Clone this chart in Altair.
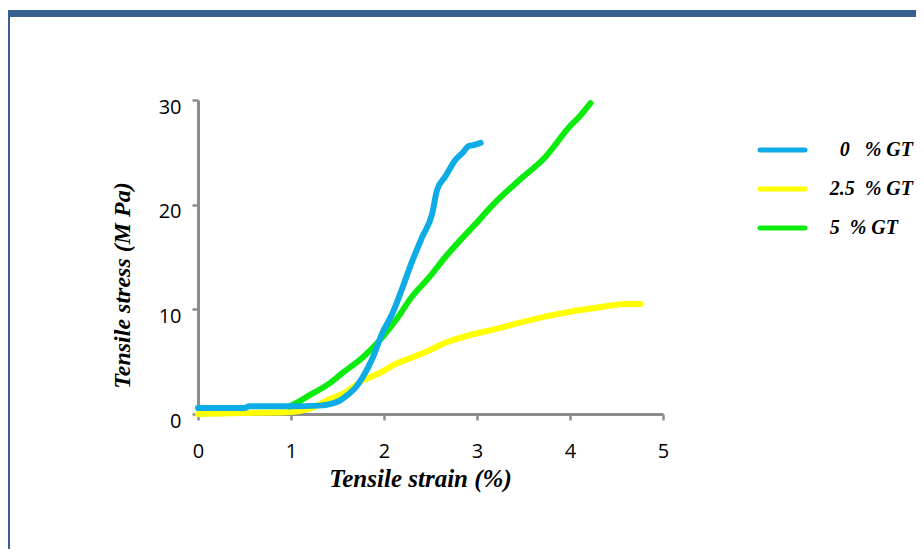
import altair as alt
import pandas as pd

# ---------------- data ----------------
series = ["0 % GT", "2.5 % GT", "5 % GT"]
colors = ["#0EACE6", "#FFFF00", "#0CEC0C"]
legend_text = ["0\u00a0\u00a0\u00a0% GT", "2.5\u00a0\u00a0% GT",
               "5\u00a0\u00a0% GT\u00a0\u00a0\u00a0\u200b"]

strain_0 = [0.0, 0.5, 0.55, 1.0, 1.3, 1.44, 1.53, 1.62, 1.7, 1.77, 1.88, 1.98, 2.09, 2.20,
            2.29, 2.41, 2.52, 2.57, 2.66, 2.77, 2.85, 2.91, 2.97, 3.04]
stress_0 = [0.57, 0.57, 0.75, 0.75, 0.8, 1.0, 1.3, 1.9, 2.6, 3.5, 5.4, 7.7, 9.6, 12.1,
            14.3, 16.9, 19.2, 21.4, 22.7, 24.3, 25.0, 25.6, 25.7, 25.9]

strain_25 = [0.0, 0.5, 1.0, 1.2, 1.41, 1.59, 1.77, 1.95, 2.13, 2.30, 2.49, 2.66, 2.95, 3.24,
             3.45, 3.73, 4.02, 4.25, 4.46, 4.6, 4.76]
stress_25 = [0.0, 0.1, 0.2, 0.5, 1.4, 2.1, 3.2, 3.9, 4.8, 5.4, 6.1, 6.8, 7.6, 8.2,
             8.7, 9.3, 9.8, 10.1, 10.4, 10.5, 10.5]

strain_5 = [0.98, 1.09, 1.2, 1.41, 1.55, 1.77, 1.95, 2.13, 2.30, 2.49, 2.66, 2.84, 3.02,
            3.13, 3.24, 3.45, 3.74, 3.99, 4.1, 4.22]
stress_5 = [0.7, 1.2, 1.8, 2.9, 3.9, 5.4, 7.0, 9.0, 11.2, 13.1, 15.0, 16.8, 18.5,
            19.6, 20.6, 22.3, 24.6, 27.4, 28.4, 29.7]

x_ticks = [0, 1, 2, 3, 4, 5]
y_ticks = [0, 10, 20, 30]

# drawing order: yellow, green, blue (blue on top)
rows = []
for name, xs, ys in [(series[1], strain_25, stress_25),
                     (series[2], strain_5, stress_5),
                     (series[0], strain_0, stress_0)]:
    for i, (a, b) in enumerate(zip(xs, ys)):
        rows.append({"series": name, "strain": a, "stress": b, "idx": i})
df = pd.DataFrame(rows)

leg_df = pd.DataFrame({"series": series, "text": legend_text})

AXIS_GRAY = "#8C8C8C"
FRAME = "#386192"
color_scale = alt.Scale(domain=series, range=colors)

lines = alt.Chart(df).mark_line(strokeWidth=6, strokeCap="round", strokeJoin="round",
                                interpolate="monotone").encode(
    x=alt.X("strain:Q", scale=alt.Scale(domain=[0, 5], nice=False),
            axis=alt.Axis(values=x_ticks, format="d", title="Tensile strain (%)",
                          titleFont="Liberation Serif", titleFontStyle="italic",
                          titleFontWeight="bold", titleFontSize=25, titleColor="black",
                          titleX=222, titleY=64, titleBaseline="middle", titleAlign="center",
                          domainColor=AXIS_GRAY, domainWidth=3, tickColor=AXIS_GRAY,
                          tickWidth=2.5, tickSize=6, labelFont="Open Sans", labelFontSize=20,
                          labelColor="black", labelPadding=21, labelFlush=False,
                          labelOverlap=False, grid=False)),
    y=alt.Y("stress:Q", scale=alt.Scale(domain=[0, 30], nice=False),
            axis=alt.Axis(values=y_ticks, format="d", title="Tensile stress (M Pa)",
                          titleFont="Liberation Serif", titleFontStyle="italic",
                          titleFontWeight="bold", titleFontSize=24, titleColor="black",
                          titleX=-76, titleY=185, titleAngle=270, titleBaseline="middle",
                          titleAlign="center",
                          domainColor=AXIS_GRAY, domainWidth=3, tickColor=AXIS_GRAY,
                          tickWidth=2.5, tickSize=6, labelFont="Open Sans", labelFontSize=20,
                          labelColor="black", labelPadding=11, labelOffset=7,
                          labelFlush=False, labelOverlap=False, grid=False)),
    color=alt.Color("series:N", scale=color_scale, legend=None),
    detail="series:N",
    order="idx:Q",
)

leg_y = alt.Y("series:N", scale=alt.Scale(type="point", domain=series, range=[50, 128], padding=0),
              axis=None)

leg_rules = alt.Chart(leg_df).mark_rule(strokeWidth=5, strokeCap="round").encode(
    x=alt.value(562), x2=alt.value(607), y=leg_y,
    color=alt.Color("series:N", scale=color_scale, legend=None),
)

leg_texts = alt.Chart(leg_df).mark_text(
    align="right", baseline="middle", font="Liberation Serif", fontStyle="italic",
    fontWeight="bold", fontSize=20, color="black").encode(
    x=alt.value(715), y=leg_y, text="text:N")

frame_data = alt.Data(values=[{"k": 1}])
top_bar = alt.Chart(frame_data).mark_rect(color=FRAME).encode(
    x=alt.value(-190), x2=alt.value(718), y=alt.value(-90), y2=alt.value(-83))
left_bar = alt.Chart(frame_data).mark_rect(color=FRAME).encode(
    x=alt.value(-190), x2=alt.value(-188), y=alt.value(-90), y2=alt.value(449))

chart = alt.layer(top_bar, left_bar, lines, leg_rules, leg_texts).resolve_scale(
    y="independent"
).properties(
    width=465, height=314,
    autosize=alt.AutoSizeParams(type="none"),
    padding={"left": 190, "top": 92, "right": 253, "bottom": 135},
    background="white",
).configure_view(stroke=None)

chart.save("out.html", embed_options={"renderer": "svg", "actions": False})
